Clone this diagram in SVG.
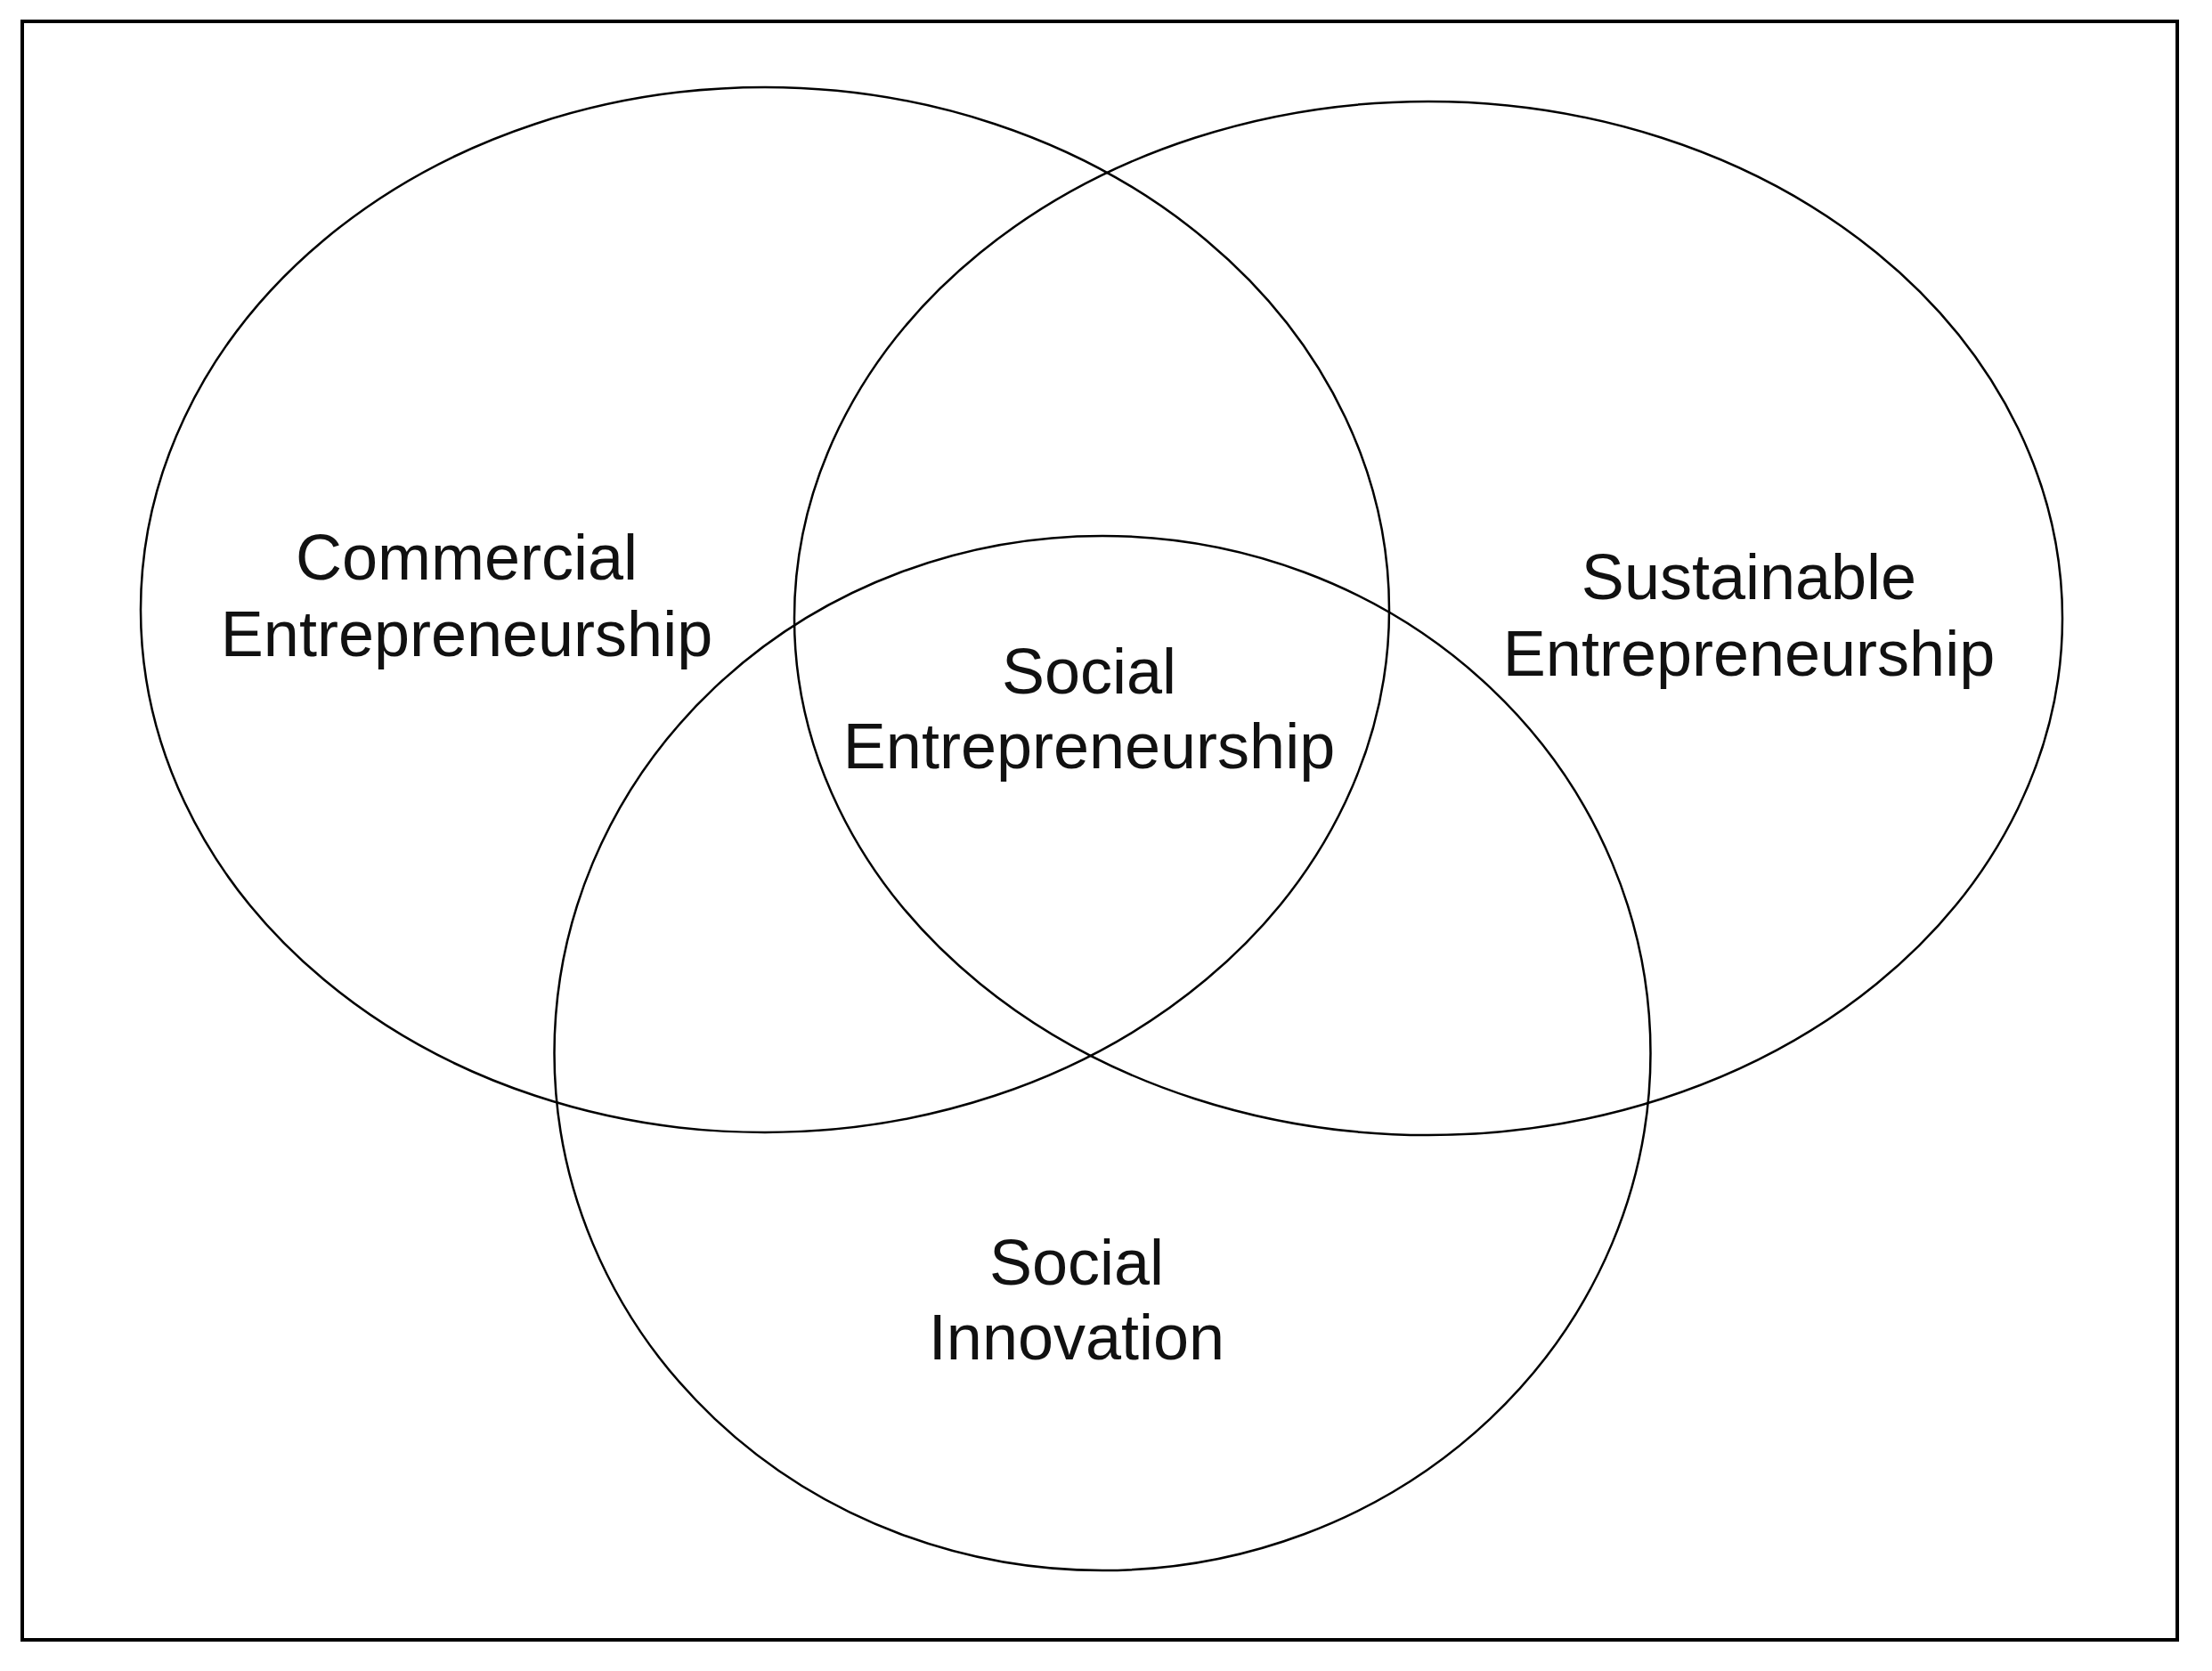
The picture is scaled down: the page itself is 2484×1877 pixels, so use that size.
<svg xmlns="http://www.w3.org/2000/svg" width="2484" height="1877" viewBox="0 0 2484 1877">
  <style>
    .frame { fill: none; stroke: #000; stroke-width: 4; }
    .set { fill: none; stroke: #000; stroke-width: 2.5; }
    .lbl { font-family: "Liberation Sans", Arial, sans-serif; font-size: 72px; fill: #111; text-anchor: middle; }
  </style>
  <rect x="0" y="0" width="2484" height="1877" fill="#fff"/>
  <rect class="frame" x="25" y="24" width="2420" height="1818"/>
  <g id="commercial">
    <ellipse class="set" cx="859" cy="685" rx="701" ry="587"/>
    <text class="lbl" x="524" y="651">Commercial</text>
    <text class="lbl" x="524" y="737">Entrepreneurship</text>
  </g>
  <g id="sustainable">
    <ellipse class="set" cx="1604" cy="694.5" rx="712" ry="580.5"/>
    <text class="lbl" x="1964" y="673">Sustainable</text>
    <text class="lbl" x="1964" y="759">Entrepreneurship</text>
  </g>
  <g id="innovation">
    <ellipse class="set" cx="1238" cy="1183" rx="615.5" ry="581"/>
    <text class="lbl" x="1209" y="1443">Social</text>
    <text class="lbl" x="1209" y="1527">Innovation</text>
  </g>
  <g id="social-entrepreneurship">
    <text class="lbl" x="1223" y="779">Social</text>
    <text class="lbl" x="1223" y="863">Entrepreneurship</text>
  </g>
  <g id="connectors"></g>
</svg>
